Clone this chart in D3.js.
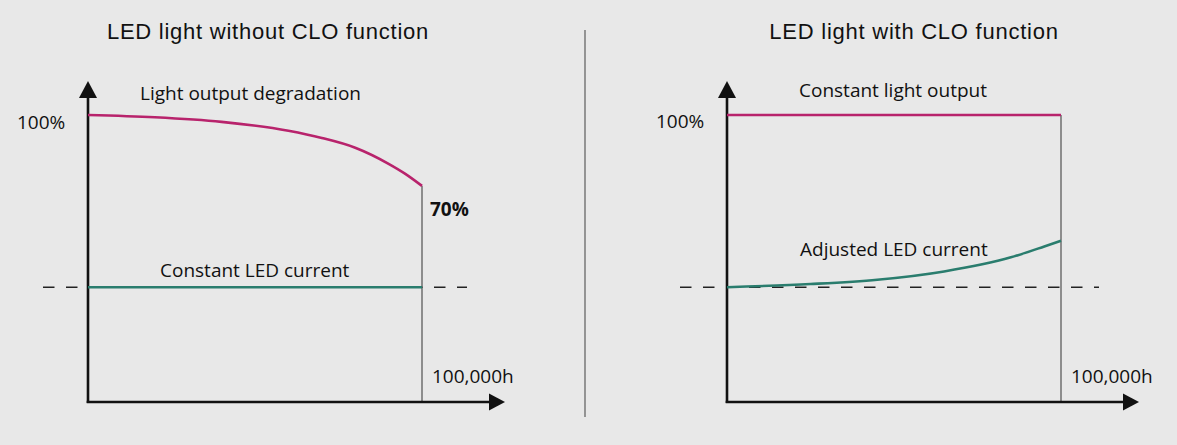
<!DOCTYPE html>
<html><head><meta charset="utf-8">
<script src="https://cdn.jsdelivr.net/npm/d3@7"></script>
<style>
html,body{margin:0;padding:0;background:#e8e8e8;}
svg{display:block;}
.lbl{font-family:"Open Sans",sans-serif;font-size:19px;font-weight:500;fill:#111;}
.ttl{font-family:"Liberation Sans",Arial,sans-serif;font-size:22px;letter-spacing:0.75px;fill:#111;}
</style></head>
<body>
<svg id="c" width="1177" height="445"></svg>
<script>
// ---- data ----
const panelTitles = ["LED light without CLO function", "LED light with CLO function"];
const lightHoursLeft = [0, 20000, 40000, 60000, 70000, 80000, 90000, 95000, 100000];
const lightLeft      = [100, 99.2, 97.6, 94.5, 92.0, 88.6, 83.0, 79.5, 75.3];
const currentHoursLeft = [0, 100000];
const currentLeft      = [40, 40];
const lightHoursRight = [0, 100000];
const lightRight      = [100, 100];
const currentHoursRight = [0, 25000, 45000, 65000, 85000, 95000, 100000];
const currentRight      = [40, 41.1, 42.6, 45.5, 50.4, 54.2, 56.2];
const referenceCurrent = 40;
const endHour = 100000;
const endLabel = "100,000h";
const topLabel = "100%";
const endLightLabel = "70%";
const seriesLabelsLeft = ["Light output degradation", "Constant LED current"];
const seriesLabelsRight = ["Constant light output", "Adjusted LED current"];

const magenta = "#b8236c", teal = "#2a7d6e";
const svg = d3.select("#c");

// separator
svg.append("line").attr("x1",585).attr("x2",585).attr("y1",30).attr("y2",417)
  .attr("stroke","#666").attr("stroke-width",1.3);

function panel(o){
  const g = svg.append("g");
  const x = d3.scaleLinear().domain([0,endHour]).range([o.x0, o.x1]);
  const y = d3.scaleLinear().domain([0,100]).range([402,115]);
  const line = d3.line().x(d=>x(d[0])).y(d=>y(d[1])).curve(d3.curveMonotoneX);
  // title
  g.append("text").attr("class","ttl").attr("x",o.tx).attr("y",39).attr("text-anchor","middle").text(o.title);
  // dashed reference
  g.append("line").attr("x1",o.dx0).attr("x2",o.dx1).attr("y1",y(referenceCurrent)).attr("y2",y(referenceCurrent))
    .attr("stroke","#222").attr("stroke-width",1.6).attr("stroke-dasharray","11.5,11.5").attr("stroke-dashoffset",o.doff);
  // end vertical thin
  g.append("line").attr("x1",x(endHour)).attr("x2",x(endHour))
    .attr("y1",y(o.light[o.light.length-1])).attr("y2",y(0))
    .attr("stroke","#333").attr("stroke-width",1);
  // axes
  g.append("line").attr("x1",x(0)).attr("x2",x(0)).attr("y1",y(0)+1).attr("y2",96)
    .attr("stroke","#111").attr("stroke-width",2.6);
  g.append("path").attr("d",`M${x(0)-9},${98}L${x(0)},${81}L${x(0)+9},${98}Z`).attr("fill","#111");
  g.append("line").attr("x1",x(0)-1.3).attr("x2",o.ax-14).attr("y1",y(0)).attr("y2",y(0))
    .attr("stroke","#111").attr("stroke-width",2.6);
  g.append("path").attr("d",`M${o.ax-16},${y(0)-8.5}L${o.ax},${y(0)}L${o.ax-16},${y(0)+8.5}Z`).attr("fill","#111");
  // series
  g.append("path").datum(o.currH.map((h,i)=>[h,o.curr[i]])).attr("d",line)
    .attr("fill","none").attr("stroke",teal).attr("stroke-width",2.6);
  g.append("path").datum(o.lightH.map((h,i)=>[h,o.light[i]])).attr("d",line)
    .attr("fill","none").attr("stroke",magenta).attr("stroke-width",2.6);
  // labels
  g.append("text").attr("class","lbl").attr("x",x(0)-71).attr("y",o.py).text(topLabel);
  g.append("text").attr("class","lbl").attr("x",x(endHour)+10).attr("y",383).text(endLabel);
  g.append("text").attr("class","lbl").attr("x",o.l1x).attr("y",o.l1y).text(o.labels[0]);
  g.append("text").attr("class","lbl").attr("x",o.l2x).attr("y",o.l2y).text(o.labels[1]);
  return {x,y,g};
}

const L = panel({x0:88,x1:422,ax:505,tx:268,title:panelTitles[0],dx0:40,dx1:467,doff:-3,
  lightH:lightHoursLeft,light:lightLeft,currH:currentHoursLeft,curr:currentLeft,py:129,
  labels:seriesLabelsLeft,l1x:140,l1y:100,l2x:160,l2y:277});
L.g.append("text").attr("class","lbl").attr("x",430).attr("y",216).style("font-weight","bold").text(endLightLabel);

panel({x0:727,x1:1061,ax:1139,tx:914,title:panelTitles[1],dx0:680,dx1:1099,doff:0,
  lightH:lightHoursRight,light:lightRight,currH:currentHoursRight,curr:currentRight,py:128,
  labels:seriesLabelsRight,l1x:799,l1y:97,l2x:800,l2y:256});
</script>
</body></html>
